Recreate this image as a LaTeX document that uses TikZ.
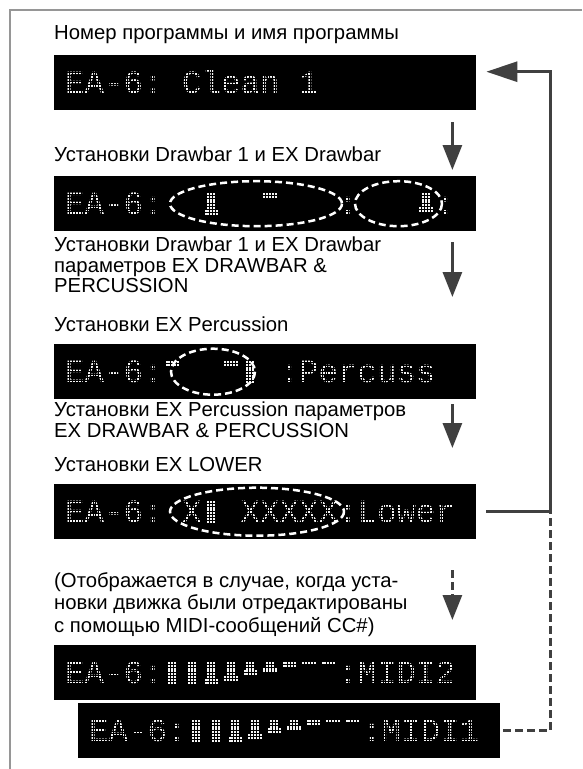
\documentclass[tikz,border=0pt]{standalone}
\usepackage{fontspec}
\setmainfont{Liberation Sans}
\newfontfamily\vfdfont{Liberation Mono}
\usetikzlibrary{arrows.meta,calc}
\definecolor{arrowGray}{RGB}{64,64,64}
\definecolor{frameGray}{RGB}{150,150,150}
\definecolor{vfdText}{RGB}{245,245,245}

% blank display cells (one cell = 0.6em of the 32.5pt mono font)
\newlength{\vfdcell}
\setlength{\vfdcell}{19.5pt}
\newcommand{\vfdgap}[1]{\hspace*{#1\vfdcell}}

% one drawbar glyph: display node, cell, length
\newcommand{\drawbarglyph}[3]{%
  \pgfmathtruncatemacro{\lastrow}{min(#3,8)-1}%
  \pgfmathtruncatemacro{\knobrow}{#3>8 ? 99 : max(#3-2,0)}%
  \foreach \r in {0,...,\lastrow}{%
    \ifnum\r<\knobrow\relax\def\cols{1,2,3}\else\def\cols{0,1,2,3,4}\fi
    \foreach \c in \cols{%
      \fill[vfdText] ($(#1.west)+(14+19.5*#2+2.9*\c,-11+2.9*\r)$) rectangle ++(2,2);
    }%
  }%
}

\tikzset{
  lbltext/.style={anchor=north west,inner sep=0pt,align=left,
    font=\fontsize{20.3}{20.5}\selectfont},
  display/.style={anchor=north west,fill=black,text=vfdText,
    minimum width=422pt,minimum height=55pt,inner xsep=11pt,inner ysep=0pt,
    text width=400pt,align=left,text height=21.5pt,text depth=0pt,
    font=\vfdfont\fontsize{32.5}{33}\selectfont},
  dotmesh/.style={draw=black,line width=0.6pt},
  selring/.style={draw=white,line width=2.5pt,dash pattern=on 7pt off 4pt},
  steparrow/.style={draw=arrowGray,line width=3pt,
    -{Triangle[width=19pt,length=25pt]}},
  backline/.style={draw=arrowGray,line width=3pt},
}

\begin{document}
\begin{tikzpicture}[x=1pt,y=-1pt]
\path[use as bounding box,fill=white] (0,0) rectangle (582,769);
\draw[frameGray,line width=2pt] (9.5,769) -- (9.5,10) -- (582,10);

% texts
\node[lbltext] (lblProgram) at (54,25) {Номер программы и имя программы};
\node[lbltext] (lblDrawbar) at (54,147) {Установки Drawbar 1 и EX Drawbar};
\node[lbltext] (lblDrawbarPar) at (54,237) {Установки Drawbar 1 и EX Drawbar\\параметров EX DRAWBAR \&\\PERCUSSION};
\node[lbltext] (lblPerc) at (54,317) {Установки EX Percussion};
\node[lbltext] (lblPercPar) at (54,402) {Установки EX Percussion параметров\\EX DRAWBAR \& PERCUSSION};
\node[lbltext] (lblLower) at (54,457) {Установки EX LOWER};
\node[lbltext,font=\fontsize{20.3}{22.5}\selectfont] (lblMidi) at (54,572) {(Отображается в случае, когда уста-\\новки движка были отредактированы\\с помощью MIDI-сообщений CC\#)};

% displays
\node[display] (dispClean) at (54,55) {EA-6:\vfdgap{1}Clean\vfdgap{1}1};
\node[display] (dispDrawbar) at (54,176) {EA-6:\vfdgap{9}:\vfdgap{4}:};
\node[display] (dispPerc) at (54,344) {EA-6:\vfdgap{6}:Percuss};
\node[display] (dispLower) at (54,484) {EA-6:\vfdgap{1}X\vfdgap{2}XXXXX:Lower};
\node[display] (dispMidiTwo) at (54,645) {EA-6:\vfdgap{9}:MIDI2};
\node[display] (dispMidiOne) at (78,703) {EA-6:\vfdgap{9}:MIDI1};

% break the display letters into dots
\foreach \disp in {dispClean,dispDrawbar,dispPerc,dispLower,dispMidiTwo,dispMidiOne}{
  \draw[dotmesh,step=2.9pt] ($(\disp.west)+(2,-15)$) grid ($(\disp.east)+(-2,15)$);
}

% drawbar glyphs
\drawbarglyph{dispDrawbar}{7}{8}
\drawbarglyph{dispDrawbar}{10}{2}
\drawbarglyph{dispDrawbar}{18}{7}
\drawbarglyph{dispPerc}{5}{2}
\drawbarglyph{dispPerc}{8}{2}
\drawbarglyph{dispPerc}{9}{9}
\drawbarglyph{dispLower}{7}{9}
\foreach \cell/\len in {5/9,6/9,7/8,8/7,9/5,10/4,11/2,12/1,13/1}{
  \drawbarglyph{dispMidiTwo}{\cell}{\len}
  \drawbarglyph{dispMidiOne}{\cell}{\len}
}

% dashed rings
\draw[selring] ($(dispDrawbar.west)+(202,0)$) ellipse [x radius=86,y radius=22.5];
\draw[selring] ($(dispDrawbar.west)+(344.5,0)$) ellipse [x radius=43.5,y radius=22.5];
\draw[selring] ($(dispPerc.west)+(159,0)$) ellipse [x radius=42,y radius=23];
\draw[selring] ($(dispLower.west)+(203,0)$) ellipse [x radius=87,y radius=24];

% step arrows
\draw[steparrow] ($(dispClean.south east)+(-24,12)$) -- ($(dispDrawbar.north east)+(-24,-6)$);
\draw[steparrow] ($(dispDrawbar.south east)+(-24,11)$) -- ($(lblPerc.north -| dispPerc.east)+(-24,-20)$);
\draw[steparrow] ($(dispPerc.south east)+(-24,5)$) -- ($(dispLower.north east)+(-24,-36)$);
\draw[steparrow,dash pattern=on 8pt off 4pt] ($(dispLower.south east)+(-24,31)$) -- ($(dispMidiTwo.north east)+(-24,-25)$);

% way back
\coordinate (retLow) at ($(dispLower.east)+(74,0)$);
\coordinate (retTop) at ($(retLow |- dispClean.east)+(0,-11)$);
\coordinate (dashCorner) at (retLow |- dispMidiOne.east);
\draw[backline,-{Triangle[width=20pt,length=31pt]}] ($(dispLower.east)+(10,0)$) -- (retLow) -- (retTop) -- (retTop -| {$(dispClean.east)+(10,0)$});
\draw[backline,dash pattern=on 8pt off 4pt] ($(dispMidiOne.east)+(3,0)$) -- (dashCorner) -- (retLow);
\end{tikzpicture}
\end{document}
